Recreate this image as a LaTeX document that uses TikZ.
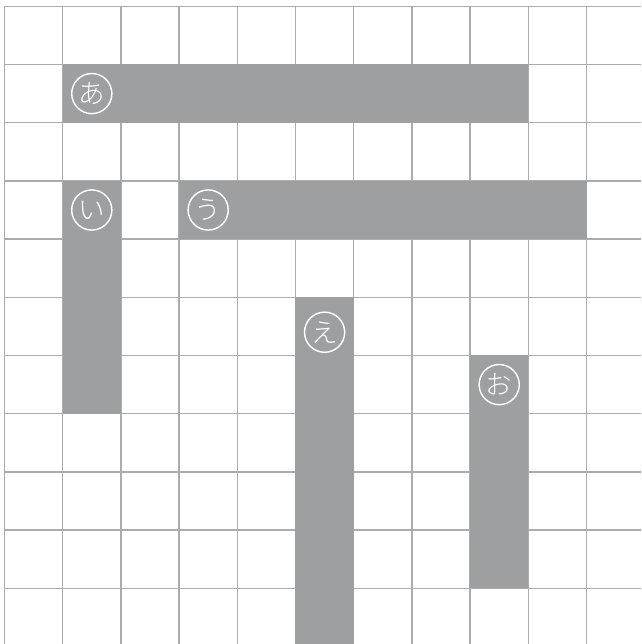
\documentclass[tikz,border=0pt]{standalone}
\usepackage{fontspec}
\newfontfamily\jpfont{Noto Sans CJK JP Light}
\usepackage{xcolor}
\definecolor{gridgray}{RGB}{172,172,172}
\definecolor{barfill}{RGB}{158,159,161}

\begin{document}
\begin{tikzpicture}[
    x=1cm, y=-1cm,
    gridline/.style={draw=gridgray, line width=0.6pt},
    bar/.style={fill=barfill},
    tag/.style={circle, draw=white, line width=0.7pt, minimum size=0.69cm, inner sep=0pt, text=white, font=\jpfont\fontsize{13}{13}\selectfont}
]
\useasboundingbox (-0.077,-0.108) rectangle (10.937,10.957);

% grid
\foreach \i in {0,...,10} {
    \draw[gridline] (\i,0) -- (\i,10.957);
    \draw[gridline] (0,\i) -- (10.937,\i);
}

% bars
\fill[bar] (1,1) rectangle (9,2);
\fill[bar] (1,3) rectangle (2,7);
\fill[bar] (3,3) rectangle (10,4);
\fill[bar] (5,5) rectangle (6,10.957);
\fill[bar] (8,6) rectangle (9,10);

\node[tag] (a) at (1.5,1.5) {あ};
\node[tag] (i) at (1.5,3.5) {い};
\node[tag] (u) at (3.5,3.5) {う};
\node[tag] (e) at (5.5,5.6) {え};
\node[tag] (o) at (8.5,6.5) {お};
\end{tikzpicture}
\end{document}
